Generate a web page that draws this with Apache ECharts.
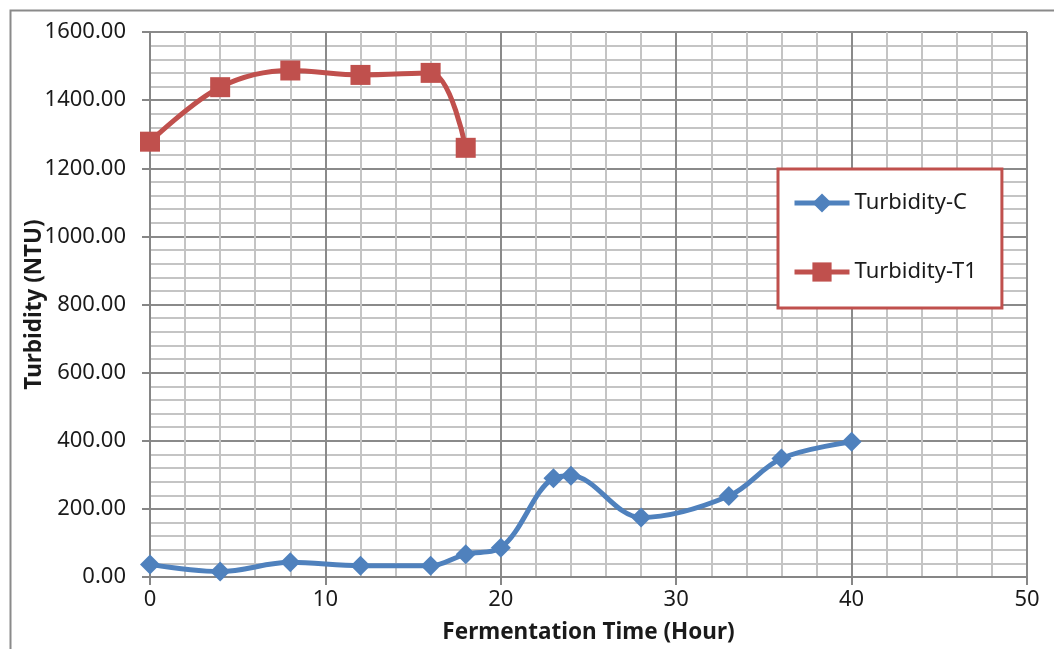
<!DOCTYPE html>
<html>
<head>
<meta charset="utf-8">
<script src="https://cdn.jsdelivr.net/npm/echarts@6/dist/echarts.min.js"></script>
<style>
html,body{margin:0;padding:0;background:#fff;}
#chart{width:1054px;height:649px;}
</style>
</head>
<body>
<div id="chart"></div>
<script>
// Data
var timeC = [0, 4, 8, 12, 16, 18, 20, 23, 24, 28, 33, 36, 40];
var turbidityC = [37, 16, 43, 33, 33, 67, 86, 290, 297, 175, 238, 348, 397];
var timeT1 = [0, 4, 8, 12, 16, 18];
var turbidityT1 = [1278, 1438, 1487, 1474, 1480, 1260];
var xTicks = [0, 10, 20, 30, 40, 50];
var yTicks = [0, 200, 400, 600, 800, 1000, 1200, 1400, 1600];
var seriesNames = ['Turbidity-C', 'Turbidity-T1'];

function pairs(xs, ys) { return xs.map(function (x, i) { return [x, ys[i]]; }); }

var FONT = 'Noto Sans';
var chart = echarts.init(document.getElementById('chart'), null, {renderer: 'canvas'});
chart.setOption({
  animation: false,
  backgroundColor: '#ffffff',
  graphic: [{
    type: 'rect', left: 8, top: 8, z: -1,
    shape: {width: 1100, height: 700},
    style: {fill: 'none', stroke: '#8a8a8a', lineWidth: 2}
  }],
  grid: {left: 150, right: 27, top: 32, bottom: 72, containLabel: false},
  legend: {
    orient: 'vertical',
    left: 778, top: 169,
    backgroundColor: '#ffffff',
    borderColor: '#c0504d',
    borderWidth: 3,
    borderRadius: 0,
    padding: [23, 25, 25, 14],
    itemGap: 47,
    itemWidth: 55,
    itemHeight: 24,
    lineStyle: {width: 5},
    textStyle: {fontFamily: FONT, fontSize: 22, color: '#1a1a1a'},
    data: seriesNames
  },
  xAxis: {
    type: 'value', min: 0, max: 50, interval: 10,
    name: 'Fermentation Time (Hour)', nameLocation: 'middle', nameGap: 44,
    nameMoveOverlap: false,
    nameTextStyle: {fontFamily: FONT, fontSize: 22.5, fontWeight: 'bold', color: '#1a1a1a'},
    axisLine: {show: true, lineStyle: {color: '#868686', width: 2}},
    axisTick: {show: true, inside: false, length: 8, lineStyle: {color: '#868686', width: 2}},
    axisLabel: {fontFamily: FONT, fontSize: 22, color: '#1a1a1a', margin: 12,
      customValues: xTicks},
    splitLine: {show: true, lineStyle: {color: '#8a8a8a', width: 2}},
    minorTick: {show: false, splitNumber: 5},
    minorSplitLine: {show: true, lineStyle: {color: '#c4c4c4', width: 2}}
  },
  yAxis: {
    type: 'value', min: 0, max: 1600, interval: 200,
    name: 'Turbidity (NTU)', nameLocation: 'middle', nameGap: 104,
    nameMoveOverlap: false,
    nameTextStyle: {fontFamily: FONT, fontSize: 22.5, fontWeight: 'bold', color: '#1a1a1a'},
    axisLine: {show: true, lineStyle: {color: '#868686', width: 2}},
    axisTick: {show: true, inside: false, length: 8, lineStyle: {color: '#868686', width: 2}},
    axisLabel: {fontFamily: FONT, fontSize: 22, color: '#1a1a1a', margin: 24,
      formatter: function (v) { return v.toFixed(2); }},
    splitLine: {show: true, lineStyle: {color: '#8a8a8a', width: 2}},
    minorTick: {show: false, splitNumber: 5},
    minorSplitLine: {show: true, lineStyle: {color: '#c4c4c4', width: 2}}
  },
  series: [{
    name: seriesNames[0], type: 'line', smooth: 0.35,
    data: pairs(timeC, turbidityC),
    symbol: 'diamond', symbolSize: 20,
    lineStyle: {color: '#4f81bd', width: 5},
    itemStyle: {color: '#4f81bd'}
  }, {
    name: seriesNames[1], type: 'line', smooth: 0.35,
    data: pairs(timeT1, turbidityT1),
    symbol: 'rect', symbolSize: 20,
    lineStyle: {color: '#c0504d', width: 5},
    itemStyle: {color: '#c0504d'}
  }]
});
</script>
</body>
</html>
